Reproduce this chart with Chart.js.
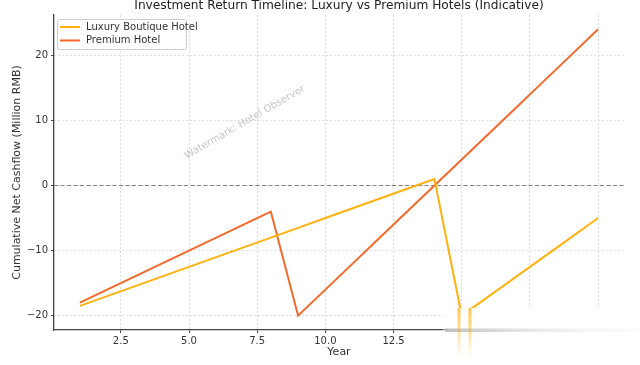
<!DOCTYPE html>
<html lang="en">
<head>
<meta charset="UTF-8">
<title>Investment Return Timeline</title>
<script src="https://cdn.jsdelivr.net/npm/chart.js"></script>
<style>
    html, body { margin: 0; padding: 0; background: #fff; }
    #wrap { width: 640px; height: 365px; }
</style>
</head>
<body>
<div id="wrap"><canvas id="returnChart" width="640" height="365"></canvas></div>

<script>
    // data
    const years = [1, 2, 3, 4, 5, 6, 7, 8, 9, 10, 11, 12, 13, 14, 15, 16, 17, 18, 19, 20];
    const luxuryCash = [-18.5, -17, -15.5, -14, -12.5, -11, -9.5, -8, -6.5, -5, -3.5, -2, -0.5, 1, -20, -17, -14, -11, -8, -5];
    const premiumCash = [-18, -16, -14, -12, -10, -8, -6, -4, -20, -16, -12, -8, -4, 0, 4, 8, 12, 16, 20, 24];
    const seriesNames = ['Luxury Boutique Hotel', 'Premium Hotel'];
    const seriesColors = ['#FFB20F', '#F4692A'];
    const xTicks = [2.5, 5.0, 7.5, 10.0, 12.5, 15.0, 17.5, 20.0];
    const yTicks = [-20, -10, 0, 10, 20];
    const chartTitle = 'Investment Return Timeline: Luxury vs Premium Hotels (Indicative)';
    const watermark = 'Watermark: Hotel Observer';

    const font = "'DejaVu Sans', sans-serif";

    function points(vals) {
        return years.map((yr, i) => ({ x: yr, y: vals[i] }));
    }

    // title over the plot, zero line, watermark, legend box
    const extras = {
        id: 'extras',
        beforeDatasetsDraw(chart) {
            const { ctx, chartArea: a, scales } = chart;
            const y0 = scales.y.getPixelForValue(0);
            ctx.save();
            ctx.strokeStyle = '#808080';
            ctx.lineWidth = 1;
            ctx.setLineDash([4, 2.5]);
            ctx.beginPath();
            ctx.moveTo(a.left, y0);
            ctx.lineTo(a.right, y0);
            ctx.stroke();
            ctx.restore();

            ctx.save();
            ctx.translate(scales.x.getPixelForValue(7.05), scales.y.getPixelForValue(9.7));
            ctx.rotate(-30 * Math.PI / 180);
            ctx.font = '10px ' + font;
            ctx.fillStyle = 'rgba(128,128,128,0.45)';
            ctx.textAlign = 'center';
            ctx.textBaseline = 'middle';
            ctx.fillText(watermark, 0, 0);
            ctx.restore();
        },
        afterDraw(chart) {
            const { ctx, chartArea: a, scales } = chart;
            ctx.save();
            ctx.font = '12.2px ' + font;
            ctx.fillStyle = '#222';
            ctx.textAlign = 'center';
            ctx.textBaseline = 'middle';
            ctx.fillText(chartTitle, (a.left + a.right) / 2, 6);
            ctx.restore();

            // legend in the upper left corner
            const bx = a.left + 3, by = a.top + 4, bw = 129, bh = 30;
            ctx.save();
            ctx.fillStyle = 'rgba(255,255,255,0.85)';
            ctx.strokeStyle = '#d0d0d0';
            ctx.lineWidth = 1;
            ctx.beginPath();
            ctx.roundRect(bx + 0.5, by + 0.5, bw, bh, 2);
            ctx.fill();
            ctx.stroke();
            ctx.font = '10px ' + font;
            ctx.textBaseline = 'middle';
            ctx.fillStyle = '#333';
            seriesNames.forEach((name, i) => {
                const ly = by + 8 + i * 13.5;
                ctx.strokeStyle = seriesColors[i];
                ctx.lineWidth = 2;
                ctx.beginPath();
                ctx.moveTo(bx + 3, ly);
                ctx.lineTo(bx + 23, ly);
                ctx.stroke();
                ctx.fillText(name, bx + 29, ly);
            });
            ctx.restore();

            // washed-out band in the lower right of the reference image
            const x1 = 445, top = 308;
            ctx.save();
            const g = ctx.createLinearGradient(x1 - 4, 0, x1 + 4, 0);
            g.addColorStop(0, 'rgba(255,255,255,0)');
            g.addColorStop(1, 'rgba(255,255,255,1)');
            ctx.fillStyle = g;
            ctx.fillRect(x1 - 4, top, 640 - x1 + 4, 365 - top);
            const ga = ctx.createLinearGradient(x1, 0, 640, 0);
            ga.addColorStop(0, 'rgba(175,175,175,0.8)');
            ga.addColorStop(0.5, 'rgba(215,215,215,0.5)');
            ga.addColorStop(1, 'rgba(240,240,240,0.2)');
            ctx.fillStyle = ga;
            ctx.fillRect(x1, a.bottom - 1.5, 640 - x1, 3.5);
            [scales.x.getPixelForValue(14.9), scales.x.getPixelForValue(15.3)].forEach(px => {
                const gs = ctx.createLinearGradient(0, top, 0, 358);
                gs.addColorStop(0, 'rgba(255,178,15,0.75)');
                gs.addColorStop(1, 'rgba(255,178,15,0)');
                ctx.fillStyle = gs;
                ctx.fillRect(px - 1.5, top, 3, 358 - top);
            });
            ctx.restore();
        }
    };

    const ctx = document.getElementById('returnChart').getContext('2d');
    const returnChart = new Chart(ctx, {
        type: 'line',
        data: {
            datasets: [
                {
                    label: seriesNames[0],
                    data: points(luxuryCash),
                    borderColor: seriesColors[0],
                    backgroundColor: seriesColors[0],
                    borderWidth: 2,
                    pointRadius: 0,
                    tension: 0
                },
                {
                    label: seriesNames[1],
                    data: points(premiumCash),
                    borderColor: seriesColors[1],
                    backgroundColor: seriesColors[1],
                    borderWidth: 2,
                    pointRadius: 0,
                    tension: 0
                }
            ]
        },
        options: {
            responsive: false,
            animation: false,
            layout: { padding: { left: 0, right: 16, top: 15, bottom: 0 } },
            plugins: {
                legend: { display: false },
                tooltip: { enabled: false },
                title: { display: false }
            },
            scales: {
                x: {
                    type: 'linear',
                    min: 0.05,
                    max: 20.95,
                    afterBuildTicks: s => { s.ticks = xTicks.map(v => ({ value: v })); },
                    afterFit: s => { s.height = 35; },
                    ticks: {
                        color: '#333',
                        font: { family: font, size: 10 },
                        padding: 2,
                        maxRotation: 0,
                        callback: v => v.toFixed(1)
                    },
                    grid: { color: '#dcdcdc', tickColor: '#444', tickLength: 3, lineWidth: 1 },
                    border: { display: true, color: '#444', width: 1.3, dash: [2, 2] },
                    title: {
                        display: true, text: 'Year', color: '#333',
                        font: { family: font, size: 11 }, padding: { top: 0, bottom: 6 }
                    }
                },
                y: {
                    min: -22.2,
                    max: 26.2,
                    afterBuildTicks: s => { s.ticks = yTicks.map(v => ({ value: v })); },
                    afterFit: s => { s.width = 54; },
                    ticks: {
                        color: '#333',
                        font: { family: font, size: 10 },
                        padding: 3,
                        callback: v => String(v).replace('-', '\u2212')
                    },
                    grid: { color: '#dcdcdc', tickColor: '#444', tickLength: 3, lineWidth: 1 },
                    border: { display: true, color: '#444', width: 1.3, dash: [2, 2] },
                    title: {
                        display: true, text: 'Cumulative Net Cashflow (Million RMB)', color: '#333',
                        font: { family: font, size: 11 }, padding: { top: 11, bottom: 2 }
                    }
                }
            }
        },
        plugins: [extras]
    });
</script>
</body>
</html>
